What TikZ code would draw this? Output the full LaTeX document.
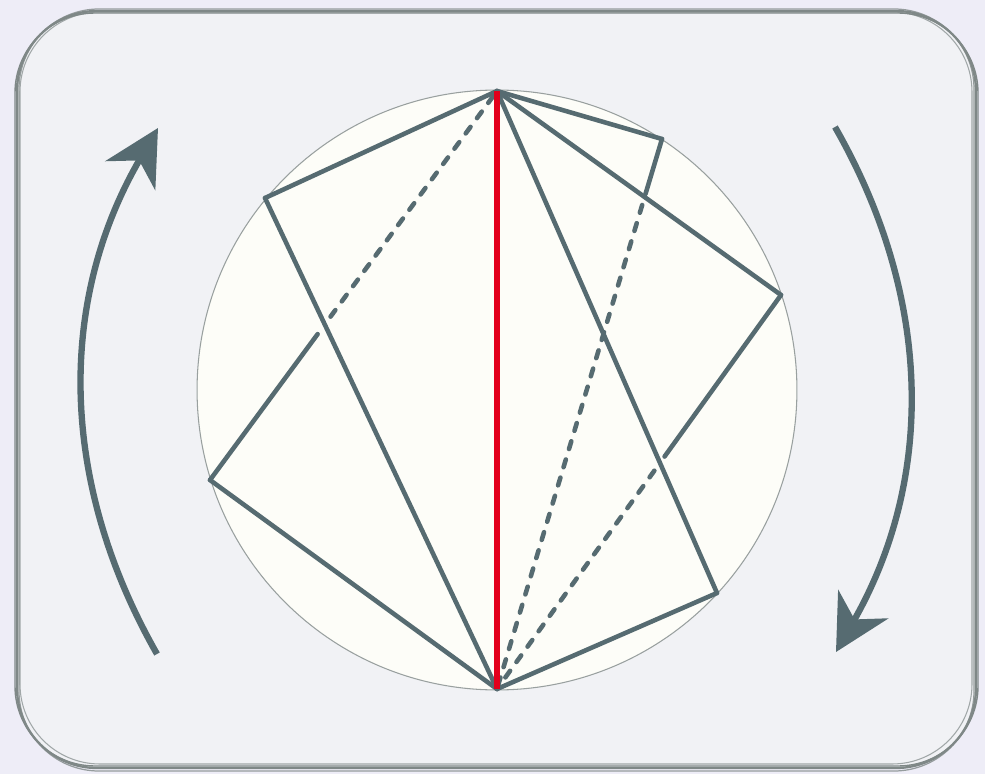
\documentclass[tikz,border=0pt]{standalone}
\usepackage{tikz}
\usetikzlibrary{arrows.meta,calc}
\definecolor{slate}{HTML}{566B71}
\definecolor{cutred}{HTML}{E3001B}
\definecolor{cream}{HTML}{FDFDF8}
\definecolor{panel}{HTML}{F1F2F5}
\definecolor{lavender}{HTML}{EEEDF7}
\definecolor{pencil}{HTML}{7F8887}

\begin{document}
\begin{tikzpicture}[
    x=0.02cm, y=-0.02cm,
    edge/.style={draw=slate, line width=2.6pt, line cap=round, line join=round},
    hidden/.style={edge, dash pattern=on 4.6pt off 6.2pt},
    cut/.style={draw=cutred, line width=3.4pt},
    turn/.style={draw=slate, line width=3.6pt, -{Stealth[length=1.1cm, width=1.15cm, inset=0.35cm]}},
    frame/.style={draw=pencil, rounded corners=1.6cm}
]
\useasboundingbox (0,0) rectangle (985,774);
\fill[lavender] (0,0) rectangle (985,774);
% panel with a pencil-like border
\fill[panel, rounded corners=1.6cm] (17,11) rectangle (976,768);
\draw[frame, line width=1.3pt] (17,11) rectangle (976,768);
\draw[frame, line width=0.8pt] (15,13) rectangle (978,766);
\draw[frame, line width=0.7pt, opacity=0.8] (19,9) rectangle (974,771);
\draw[frame, line width=0.6pt, opacity=0.7] (20,12) rectangle (972,764);

\node[circle, draw=pencil!80, fill=cream, line width=0.6pt, minimum size=12cm, inner sep=0pt] (ball) at (497,390) {};

% vertices on the rim
\coordinate (T) at (497,91);
\coordinate (B) at (497,689);
\coordinate (L1) at (265,198);
\coordinate (L2) at (210,480);
\coordinate (R1) at (662,139);
\coordinate (R2) at (781,295);
\coordinate (R3) at (717,593);

% back edges
\draw[edge] (L2) -- ($(L2)!0.375!(T)$);
\draw[hidden] ($(L2)!0.42!(T)$) -- (T);
\draw[edge] (R1) -- ($(R1)!0.10!(B)$);
\draw[hidden] ($(R1)!0.12!(B)$) -- (B);
\draw[edge] (R2) -- ($(R2)!0.41!(B)$);
\draw[hidden] ($(R2)!0.446!(B)$) -- (B);

% front edges
\draw[edge] (T) -- (L1);
\draw[edge] (L1) -- (B);
\draw[edge] (L2) -- (B);
\draw[edge] (T) -- (R1);
\draw[edge] (T) -- (R2);
\draw[edge] (T) -- (R3);
\draw[edge] (R3) -- (B);

\draw[cut] (T) -- (B);

% rotation arrows
\coordinate (lfoot) at (157,654);
\coordinate (ltip) at (158,128);
\coordinate (rfoot) at (835,127);
\coordinate (rtip) at (836,652);
\draw[turn] (lfoot) .. controls (58,480) and (58,300) .. (ltip);
\draw[turn] (rfoot) .. controls (934,300) and (934,480) .. (rtip);
\end{tikzpicture}
\end{document}
